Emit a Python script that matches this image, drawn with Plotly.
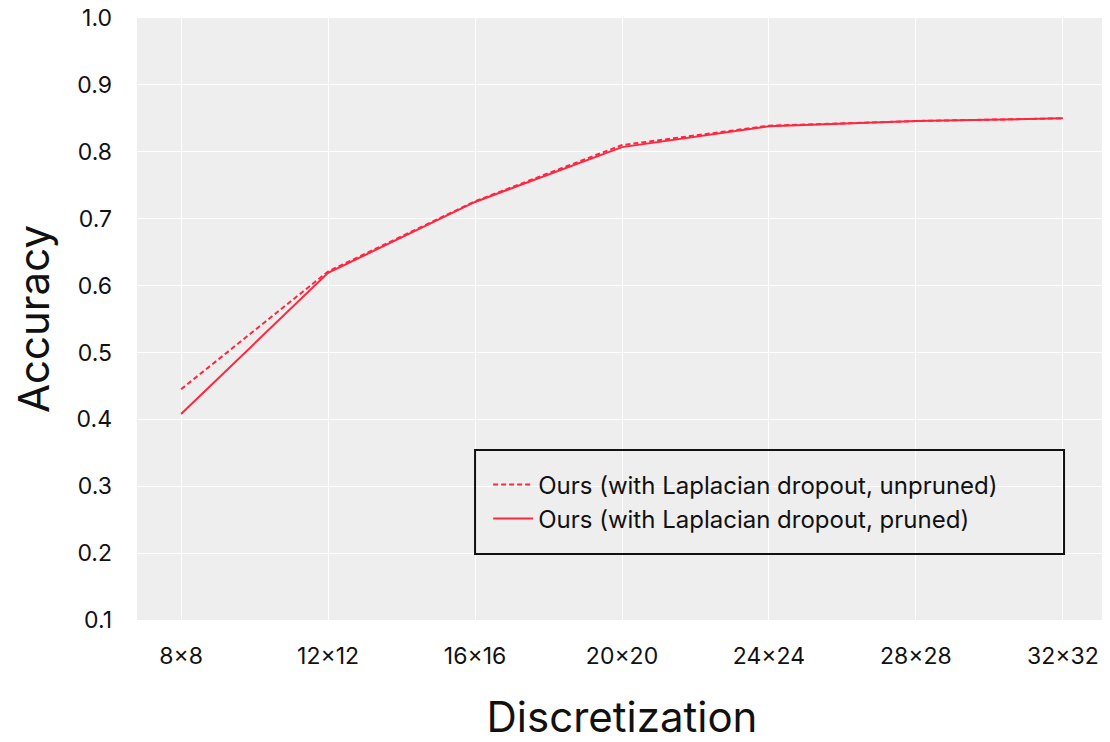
import plotly.graph_objects as go

categories = ["8×8", "12×12", "16×16", "20×20", "24×24", "28×28", "32×32"]
unpruned = [0.445, 0.621, 0.726, 0.810, 0.839, 0.846, 0.850]
pruned = [0.408, 0.619, 0.725, 0.807, 0.838, 0.846, 0.850]
yticks = [0.1, 0.2, 0.3, 0.4, 0.5, 0.6, 0.7, 0.8, 0.9, 1.0]

RED = "#ff2640"
FONT = "Inter"

fig = go.Figure()
fig.add_trace(go.Scatter(x=categories, y=unpruned, mode="lines",
                         name="Ours (with Laplacian dropout, unpruned)",
                         line=dict(color=RED, width=2, dash="5px,3px")))
fig.add_trace(go.Scatter(x=categories, y=pruned, mode="lines",
                         name="Ours (with Laplacian dropout, pruned)",
                         line=dict(color=RED, width=2)))

# legend frame
fig.add_shape(type="rect", xref="paper", yref="paper",
              x0=0.3485, x1=0.9557, y0=0.1097, y1=0.2824,
              line=dict(color="#111111", width=2), fillcolor="rgba(0,0,0,0)",
              layer="above")

fig.update_layout(
    width=1102, height=734,
    margin=dict(l=129, r=3, t=10, b=122),
    paper_bgcolor="white", plot_bgcolor="#eeeeee",
    font=dict(family=FONT, color="#111111", size=23),
    xaxis=dict(type="category", range=[-0.3, 6.3], showgrid=True, gridcolor="white",
               gridwidth=1, zeroline=False, showline=False, ticks="", automargin=False,
               tickfont=dict(size=23), ticklabelstandoff=20, ticklabeloverflow="allow",
               title=dict(text="Discretization", font=dict(size=42), standoff=34)),
    yaxis=dict(range=[0.1, 1.0], tickvals=yticks, ticktext=[f"{v:.1f}" for v in yticks],
               showgrid=True, gridcolor="white", gridwidth=1, zeroline=False, automargin=False,
               showline=False, ticks="", tickfont=dict(size=23), ticklabelstandoff=24,
               ticklabeloverflow="allow",
               title=dict(text="Accuracy", font=dict(size=42), standoff=18)),
    legend=dict(x=0.362, y=0.262, xanchor="left", yanchor="top",
                bgcolor="rgba(0,0,0,0)", borderwidth=0,
                font=dict(size=24), tracegroupgap=0, itemwidth=40),
    showlegend=True,
)

fig.write_html("out.html")
